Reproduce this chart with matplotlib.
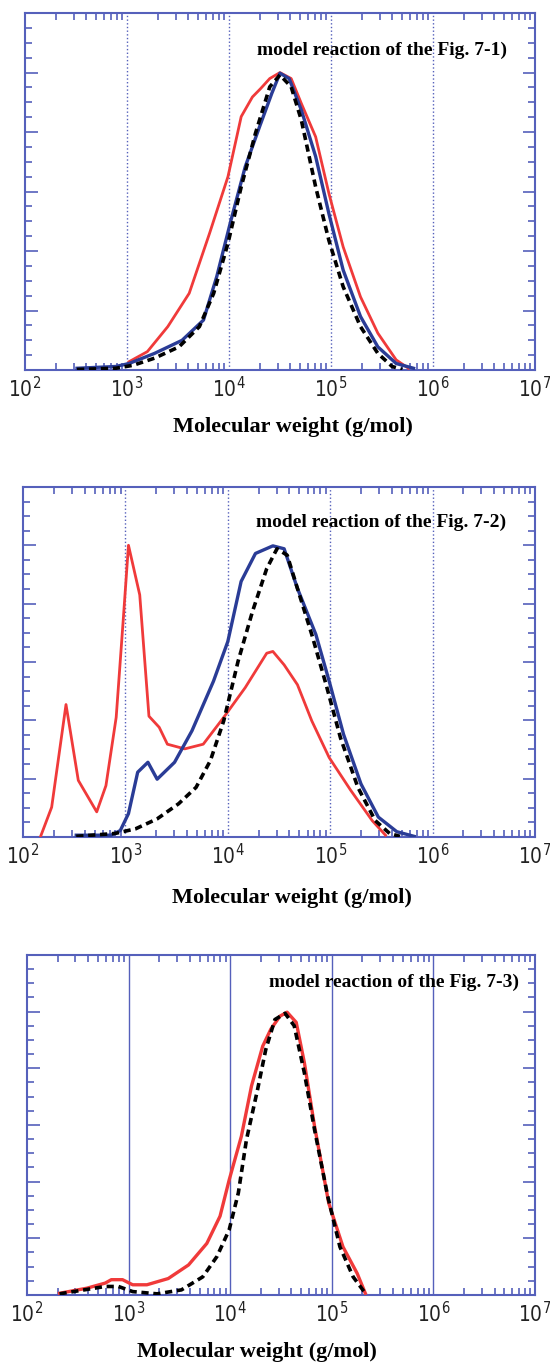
import numpy as np
import matplotlib.pyplot as plt
from matplotlib import font_manager
from matplotlib.ticker import LogLocator, MultipleLocator, FixedLocator, NullFormatter

# ---- GPC traces, x = log10(M [g/mol]), y = detector response (arb.) ----
# Fig. 7-1
p1_red_logm = [3.02, 3.20, 3.40, 3.61, 3.81, 3.99, 4.12, 4.23, 4.31, 4.40, 4.50, 4.61, 4.71, 4.85,
               4.98, 5.12, 5.29, 5.46, 5.64, 5.76]
p1_red_y = [0.14, 0.31, 0.73, 1.29, 2.30, 3.25, 4.26, 4.59, 4.73, 4.90, 5.00, 4.90, 4.48, 3.92,
            2.97, 2.07, 1.23, 0.62, 0.17, 0.03]
p1_blue_logm = [2.51, 2.89, 3.02, 3.27, 3.54, 3.75, 3.88, 4.02, 4.16, 4.30, 4.42, 4.50, 4.59, 4.71,
                4.85, 4.98, 5.12, 5.29, 5.46, 5.64, 5.81]
p1_blue_y = [0.03, 0.06, 0.11, 0.28, 0.50, 0.84, 1.57, 2.52, 3.42, 4.09, 4.65, 4.99, 4.90, 4.37,
             3.59, 2.63, 1.68, 0.90, 0.39, 0.11, 0.03]
p1_ref_logm = [2.51, 2.89, 3.06, 3.27, 3.51, 3.71, 3.85, 3.99, 4.12, 4.26, 4.40, 4.50, 4.61, 4.71,
               4.85, 4.98, 5.12, 5.29, 5.46, 5.60, 5.70]
p1_ref_y = [0.01, 0.03, 0.08, 0.20, 0.39, 0.73, 1.29, 2.13, 3.08, 3.98, 4.76, 4.96, 4.76, 4.20,
            3.08, 2.18, 1.40, 0.73, 0.28, 0.06, 0.01]

# Fig. 7-2
p2_red_logm = [2.17, 2.28, 2.42, 2.54, 2.72, 2.81, 2.91, 2.98, 3.03, 3.14, 3.23, 3.33, 3.41, 3.58,
               3.76, 3.96, 4.17, 4.38, 4.44, 4.55, 4.68, 4.82, 4.99, 5.20, 5.41, 5.54]
p2_red_y = [0.00, 0.51, 2.27, 0.97, 0.43, 0.88, 2.05, 3.75, 5.00, 4.15, 2.07, 1.88, 1.59, 1.51,
            1.59, 2.05, 2.56, 3.15, 3.18, 2.95, 2.61, 1.99, 1.36, 0.80, 0.28, 0.03]
p2_blue_logm = [2.52, 2.86, 2.95, 3.03, 3.12, 3.22, 3.31, 3.48, 3.65, 3.86, 4.00, 4.13, 4.27, 4.44,
                4.55, 4.68, 4.86, 4.99, 5.13, 5.30, 5.47, 5.65, 5.82]
p2_blue_y = [0.03, 0.03, 0.11, 0.40, 1.11, 1.28, 0.99, 1.28, 1.82, 2.67, 3.35, 4.38, 4.86, 4.99,
             4.94, 4.26, 3.47, 2.67, 1.76, 0.91, 0.34, 0.09, 0.01]
p2_ref_logm = [2.52, 2.90, 3.10, 3.31, 3.52, 3.69, 3.83, 3.96, 4.10, 4.24, 4.38, 4.48, 4.58, 4.68,
               4.82, 4.96, 5.10, 5.27, 5.44, 5.58, 5.68]
p2_ref_y = [0.01, 0.06, 0.14, 0.31, 0.57, 0.85, 1.31, 1.99, 3.01, 3.86, 4.60, 4.94, 4.83, 4.26,
            3.47, 2.61, 1.70, 0.85, 0.28, 0.06, 0.01]

# Fig. 7-3
p3_red_logm = [2.32, 2.59, 2.77, 2.83, 2.94, 3.04, 3.18, 3.39, 3.59, 3.77, 3.90, 3.99, 4.11, 4.21,
               4.32, 4.40, 4.49, 4.56, 4.65, 4.73, 4.83, 4.97, 5.11, 5.25, 5.33]
p3_red_y = [0.03, 0.12, 0.21, 0.27, 0.27, 0.18, 0.18, 0.29, 0.53, 0.91, 1.39, 2.03, 2.80, 3.69,
            4.39, 4.69, 4.92, 4.99, 4.81, 4.10, 2.98, 1.62, 0.85, 0.38, 0.03]
p3_ref_logm = [2.32, 2.77, 2.90, 3.04, 3.28, 3.52, 3.73, 3.87, 3.99, 4.08, 4.16, 4.27, 4.35, 4.44,
               4.54, 4.63, 4.73, 4.83, 4.96, 5.08, 5.21, 5.33]
p3_ref_y = [0.02, 0.15, 0.15, 0.06, 0.02, 0.09, 0.32, 0.68, 1.15, 1.80, 2.74, 3.63, 4.33, 4.86,
            4.97, 4.75, 3.92, 2.92, 1.74, 0.85, 0.32, 0.03]

decades = [1e2, 1e3, 1e4, 1e5, 1e6, 1e7]
tick_labels = ['$10^{2}$', '$10^{3}$', '$10^{4}$', '$10^{5}$', '$10^{6}$', '$10^{7}$']
titles = ['model reaction of the Fig. 7-1)', 'model reaction of the Fig. 7-2)',
          'model reaction of the Fig. 7-3)']

RED = '#f03a3a'
BLUE = '#2a3c96'
FRAME = '#5560bb'
serif = ['Liberation Serif', 'DejaVu Serif']

# a condensed sans for the decade labels if the system has one
fonts = font_manager.fontManager.ttflist
if any(f.name == 'Liberation Sans Narrow' for f in fonts):
    tick_font, tick_size = 'Liberation Sans Narrow', 17
elif any(f.name == 'DejaVu Sans' and f.stretch == 'condensed' and f.weight in (400, 'normal')
         and f.style == 'normal' for f in fonts):
    tick_font, tick_size = 'DejaVu Sans:stretch=condensed', 15
else:
    tick_font, tick_size = 'Liberation Sans', 15
plt.rcParams['mathtext.fontset'] = 'custom'
plt.rcParams['mathtext.rm'] = tick_font
plt.rcParams['mathtext.it'] = tick_font
plt.rcParams['mathtext.bf'] = tick_font

fig = plt.figure(figsize=(5.5, 13.64), dpi=100)

# axes boxes in figure fractions: [left, bottom, width, height]
boxes = [[0.0455, 0.7287, 0.927, 0.2617],
         [0.0418, 0.3864, 0.931, 0.2566],
         [0.0491, 0.0506, 0.9236, 0.2493]]
title_pos = [(0.700, 0.896), (0.700, 0.900), (0.722, 0.920)]
xlabel_pos = [(0.533, 0.687), (0.530, 0.342), (0.467, 0.009)]

series = [
    [(p1_red_logm, p1_red_y, RED, '-'), (p1_blue_logm, p1_blue_y, BLUE, '-'),
     (p1_ref_logm, p1_ref_y, 'black', '--')],
    [(p2_red_logm, p2_red_y, RED, '-'), (p2_blue_logm, p2_blue_y, BLUE, '-'),
     (p2_ref_logm, p2_ref_y, 'black', '--')],
    [(p3_red_logm, p3_red_y, RED, '-'), (p3_ref_logm, p3_ref_y, 'black', '--')],
]

for i in range(3):
    ax = fig.add_axes(boxes[i])
    ax.set_xscale('log')
    ax.set_xlim(1e2, 1e7)
    ax.set_ylim(0, 6)

    # decade grid: dotted in the first two panels, solid in the last
    gstyle = ':' if i < 2 else '-'
    for d in decades[1:-1]:
        ax.axvline(d, color=FRAME, lw=1.0, ls=gstyle, zorder=1)

    for logm, y, col, ls in series[i]:
        m = 10 ** np.array(logm)
        if ls == '--':
            ax.plot(m, y, color=col, lw=2.6, ls=(0, (2.0, 1.3)), zorder=4)
        else:
            lw = 2.4 if col == BLUE else 2.0
            if i == 2:
                lw = 2.4
            ax.plot(m, y, color=col, lw=lw, zorder=3)

    for s in ax.spines.values():
        s.set_color(FRAME)
        s.set_linewidth(1.5)

    ax.xaxis.set_major_locator(FixedLocator(decades))
    ax.set_xticklabels(tick_labels)
    ax.xaxis.set_minor_locator(LogLocator(base=10, subs=np.arange(2, 10)))
    ax.xaxis.set_minor_formatter(NullFormatter())
    ax.yaxis.set_major_locator(MultipleLocator(1))
    ax.yaxis.set_minor_locator(MultipleLocator(0.25))
    ax.set_yticklabels([])
    ax.tick_params(which='both', direction='in', top=True, right=True, color=FRAME, width=1.2)
    ax.tick_params(axis='x', which='major', length=0, labelsize=tick_size, pad=4,
                   labelcolor='#222222')
    ax.tick_params(axis='x', which='minor', length=5)
    ax.tick_params(axis='y', which='major', length=9)
    ax.tick_params(axis='y', which='minor', length=5)

    ax.text(title_pos[i][0], title_pos[i][1], titles[i], transform=ax.transAxes,
            ha='center', va='center', fontsize=14, fontweight='bold', family=serif, zorder=5)
    fig.text(xlabel_pos[i][0], xlabel_pos[i][1], 'Molecular weight (g/mol)',
             ha='center', va='center', fontsize=16, fontweight='bold', family=serif)

fig.savefig('out.png', dpi=100)
